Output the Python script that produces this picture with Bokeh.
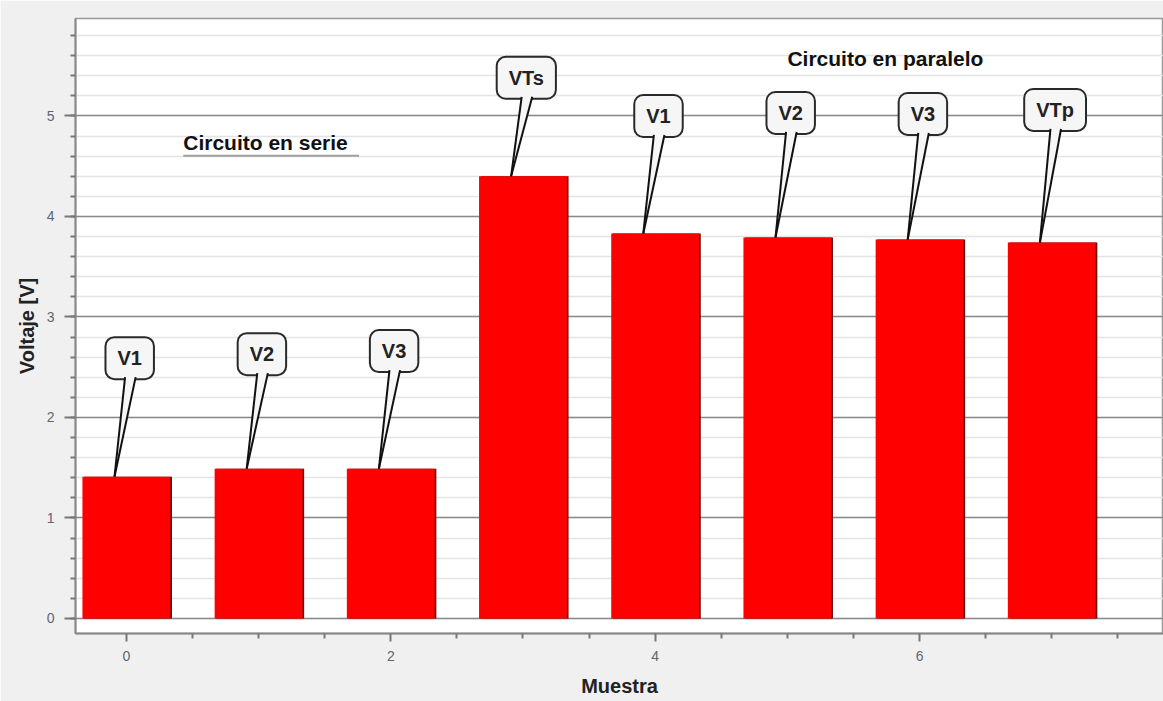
from bokeh.plotting import figure
from bokeh.models import Label, FixedTicker, SingleIntervalTicker, ColumnDataSource, Range1d
from bokeh.embed import file_html
from bokeh.resources import INLINE

# Data
muestra = [0, 1, 2, 3, 4, 5, 6, 7]
voltaje = [1.41, 1.49, 1.49, 4.40, 3.83, 3.79, 3.77, 3.74]
etiquetas = ["V1", "V2", "V3", "VTs", "V1", "V2", "V3", "VTp"]
x_ticks = [0, 2, 4, 6]
x_minor = [0.5, 1, 1.5, 2.5, 3, 3.5, 4.5, 5, 5.5, 6.5, 7, 7.5]

# Callout box heights (annotation layout)
callout_y = [2.59, 2.63, 2.66, 5.38, 5.00, 5.03, 5.02, 5.06]

FONT = "Liberation Sans"

p = figure(width=1163, height=701, output_backend="svg", toolbar_location=None,
           x_range=Range1d(-0.385, 7.845), y_range=Range1d(-0.15, 5.97),
           min_border_left=75, min_border_right=0, min_border_top=18, min_border_bottom=68)
p.border_fill_color = "#f0f0f0"
p.background_fill_color = "white"
p.outline_line_color = "#999999"
p.outline_line_width = 1.5

# bars with dark right edge
src = ColumnDataSource(dict(x=muestra, top=voltaje, xs=[m + 0.012 for m in muestra]))
p.vbar(x="xs", top="top", bottom=0, width=0.665, source=src, fill_color="#6a0000", line_color=None)
p.vbar(x="x", top="top", bottom=0, width=0.665, source=src, fill_color="#ff0000", line_color=None)

# callouts
ppu_y = 100.5
for m, v, cy, t in zip(muestra, voltaje, callout_y, etiquetas):
    lab = Label(x=m + 0.025, y=cy, text=t, text_align="center", text_baseline="middle",
                text_font=FONT, text_font_style="bold", text_font_size="20px", text_color="#222222",
                background_fill_color="#f6f6f6", border_line_color="#2a2a2a", border_line_width=2,
                border_radius=9, padding=(12, 10))
    p.add_layout(lab)
    by = cy - 19.0 / ppu_y
    bxl, bxr, tx = m - 0.01, m + 0.07, m - 0.09
    r1 = p.patch([bxl, bxr, tx], [by, by, v], fill_color="#f6f6f6", line_color=None)
    r1.level = "overlay"
    r2 = p.multi_line([[bxl, tx], [bxr, tx]], [[by, v], [by, v]], line_color="#111111", line_width=2)
    r2.level = "overlay"

# section titles
p.add_layout(Label(x=0.43, y=4.74, text="Circuito en serie", text_baseline="middle",
                   text_font=FONT, text_font_style="bold", text_font_size="21px", text_color="#111111"))
p.segment(x0=[0.43], y0=[4.605], x1=[1.76], y1=[4.605], line_color="#a0a0a0", line_width=2)
p.add_layout(Label(x=5.0, y=5.57, text="Circuito en paralelo", text_baseline="middle",
                   text_font=FONT, text_font_style="bold", text_font_size="21px", text_color="#111111"))

# axes
p.xaxis.ticker = FixedTicker(ticks=x_ticks, minor_ticks=x_minor)
p.yaxis.ticker = SingleIntervalTicker(interval=1, num_minor_ticks=5)
for ax in (p.xaxis[0], p.yaxis[0]):
    ax.axis_line_color = "#888888"
    ax.axis_line_width = 2
    ax.major_tick_line_color = "#777777"
    ax.minor_tick_line_color = "#777777"
    ax.major_tick_line_width = 2
    ax.minor_tick_line_width = 2
    ax.major_tick_in = 0
    ax.minor_tick_in = 0
    ax.major_tick_out = 11
    ax.minor_tick_out = 5
    ax.major_label_text_font = FONT
    ax.major_label_text_font_size = "14px"
    ax.major_label_text_color = "#5f6670"
    ax.axis_label_text_font = FONT
    ax.axis_label_text_font_style = "bold"
    ax.axis_label_text_color = "#222222"
    ax.axis_label_text_font_size = "20px"
p.xaxis.major_tick_out = 8
p.xaxis.axis_label = "Muestra"
p.yaxis.axis_label = "Voltaje [V]"
p.xaxis.major_label_standoff = 9
p.yaxis.major_label_standoff = 10
p.xaxis.axis_label_standoff = 11
p.yaxis.axis_label_standoff = 6

p.xgrid.grid_line_color = None
p.ygrid.grid_line_color = "#8a8a8a"
p.ygrid.grid_line_width = 1.5
p.ygrid.minor_grid_line_color = "#e4e4e4"
p.ygrid.minor_grid_line_width = 1.5

open("out.html", "w").write(file_html(p, INLINE))
